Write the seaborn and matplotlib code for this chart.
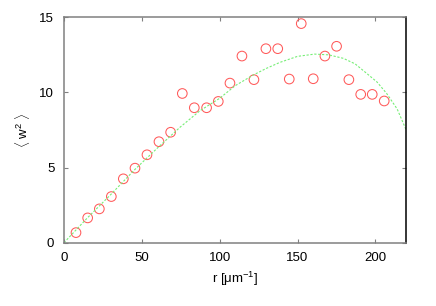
import numpy as np
import pandas as pd
import matplotlib
matplotlib.use("Agg")
import matplotlib.pyplot as plt
import seaborn as sns

# measured points
r_pts = [7.7, 15.2, 22.7, 30.4, 38.1, 45.6, 53.3, 61.0, 68.5, 76.0, 83.7, 91.6, 99.1,
         106.6, 114.3, 122.0, 129.7, 137.3, 144.7, 152.4, 160.1, 167.6, 175.1, 183.0,
         190.6, 198.0, 205.7]
w2_pts = [0.67, 1.65, 2.25, 3.07, 4.25, 4.96, 5.85, 6.72, 7.35, 9.93, 8.98, 8.98, 9.4,
          10.62, 12.42, 10.85, 12.91, 12.91, 10.89, 14.58, 10.91, 12.42, 13.07, 10.85,
          9.87, 9.87, 9.43]

# fit curve
r_fit = [0, 15, 30, 45.8, 60, 74.5, 87.3, 100, 110, 121.6, 130, 138.7, 150, 161, 170,
         179.4, 187, 194.4, 201, 207.2, 214, 219.6]
w2_fit = [0, 1.65, 3.2, 4.9, 6.3, 7.68, 8.78, 9.61, 10.45, 11.16, 11.6, 12.0, 12.4, 12.55,
          12.5, 12.27, 11.9, 11.27, 10.7, 9.94, 8.9, 7.55]

pts = pd.DataFrame({"r": r_pts, "w2": w2_pts})
fit = pd.DataFrame({"r": r_fit, "w2": w2_fit})

sns.set_style("ticks")
plt.rcParams['font.family'] = ['Liberation Sans', 'DejaVu Sans']
plt.rcParams['mathtext.fontset'] = 'custom'
plt.rcParams['mathtext.rm'] = 'Liberation Sans'
plt.rcParams['mathtext.it'] = 'Liberation Sans'
plt.rcParams['text.color'] = 'black'
plt.rcParams['axes.labelcolor'] = 'black'
plt.rcParams['xtick.labelcolor'] = 'black'
plt.rcParams['ytick.labelcolor'] = 'black'

fig = plt.figure(figsize=(4.36, 3.06), dpi=100)
ax = fig.add_axes([0.1468, 0.2069, 0.9323 - 0.1468, 0.9435 - 0.2069])

sns.lineplot(data=fit, x="r", y="w2", ax=ax, color="#77ee77", linewidth=0.8,
             linestyle=(0, (2, 1.5)), sort=False)
sns.scatterplot(data=pts, x="r", y="w2", ax=ax, marker="o", s=48,
                facecolor="none", edgecolor="#ff5a5a", linewidth=0.75)

ax.set_xlim(0, 220)
ax.set_ylim(0, 15)
ax.set_xticks([0, 50, 100, 150, 200])
ax.set_yticks([0, 5, 10, 15])
ax.tick_params(direction="in", length=3, width=0.8, color="#808080", labelsize=9.5,
               top=True, right=True, pad=7)
for side in ["left", "bottom", "top"]:
    ax.spines[side].set_color("#808080")
    ax.spines[side].set_linewidth(1.1)
ax.spines["right"].set_color("black")
ax.spines["right"].set_linewidth(1.1)

ax.set_xlabel(r"r [$\mathrm{\mu}$m$^{-1}$]", fontsize=9.5, labelpad=4)
ax.set_ylabel(r"$\langle$ w$^2$ $\rangle$", fontsize=9.5, labelpad=5)

fig.savefig("out.png", dpi=100)
